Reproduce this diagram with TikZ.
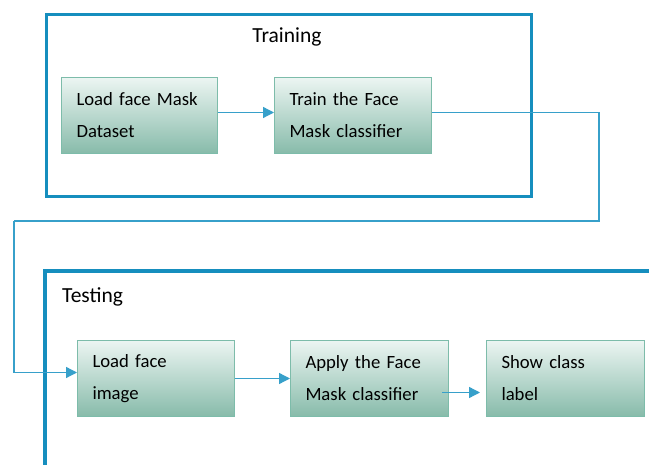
\documentclass[tikz,border=0pt]{standalone}
\usepackage{fontspec}
\setmainfont{Carlito}
\usetikzlibrary{arrows.meta}
\definecolor{frameblue}{RGB}{22,142,190}
\definecolor{lineblue}{RGB}{55,160,202}
\definecolor{boxedge}{RGB}{125,188,170}
\definecolor{boxtop}{RGB}{236,245,242}
\definecolor{boxbot}{RGB}{135,187,170}
\tikzset{
  stepbox/.style={draw=boxedge, line width=1pt, top color=boxtop, bottom color=boxbot,
    minimum height=76pt, inner xsep=15pt, align=left, anchor=north west,
    font=\fontsize{18.7}{32}\selectfont, text=black},
  frameline/.style={draw=frameblue, line width=3.2pt},
  conn/.style={draw=lineblue, line width=1.3pt},
  arr/.style={conn, -{Triangle[length=11pt,width=11pt]}},
  title/.style={font=\fontsize{21.5}{24}\selectfont, text=black}
}
\begin{document}
\begin{tikzpicture}[x=1pt,y=-1pt]
\useasboundingbox (0,0) rectangle (649,465);
\clip (0,0) rectangle (649,465);
\fill[white] (0,0) rectangle (649,465);
% frames
\node[frameline, minimum width=485pt, minimum height=182pt, anchor=north west, inner sep=0pt] (train) at (45,13) {};
\node[title] (traintitle) at (287,37) {Training};
\draw[frameline] (660,271) -- (45,271) -- (45,480);
\node[title, anchor=west, inner sep=0pt] (testtitle) at (62,297) {Testing};
% boxes
\node[stepbox, minimum width=156pt, text width=126pt] (a) at (61,77) {Load face Mask\\Dataset};
\node[stepbox, minimum width=157pt, text width=127pt] (b) at (274,77) {Train the Face\\Mask classifier};
\node[stepbox, minimum width=157pt, text width=127pt] (c) at (77,340) {Load face\\image};
\node[stepbox, minimum width=158pt, text width=128pt] (d) at (290,340) {Apply the Face\\Mask classifier};
\node[stepbox, minimum width=158pt, text width=128pt] (e) at (486,340) {Show class\\label};
% connectors
\coordinate (r1) at (599,221);
\coordinate (l1) at (14,221);
\draw[arr] ([yshift=3pt]a.east) -- ([yshift=3pt]b.west);
\draw[conn] ([yshift=3pt]b.east) -| (r1) -- (l1);
\draw[arr] (l1) |- ([yshift=6pt]c.west);
\draw[arr] (c.east) -- (d.west);
\draw[arr, shorten >=6pt] ([xshift=-7pt,yshift=-14pt]d.east) -- ([yshift=-14pt]e.west);
\end{tikzpicture}
\end{document}
